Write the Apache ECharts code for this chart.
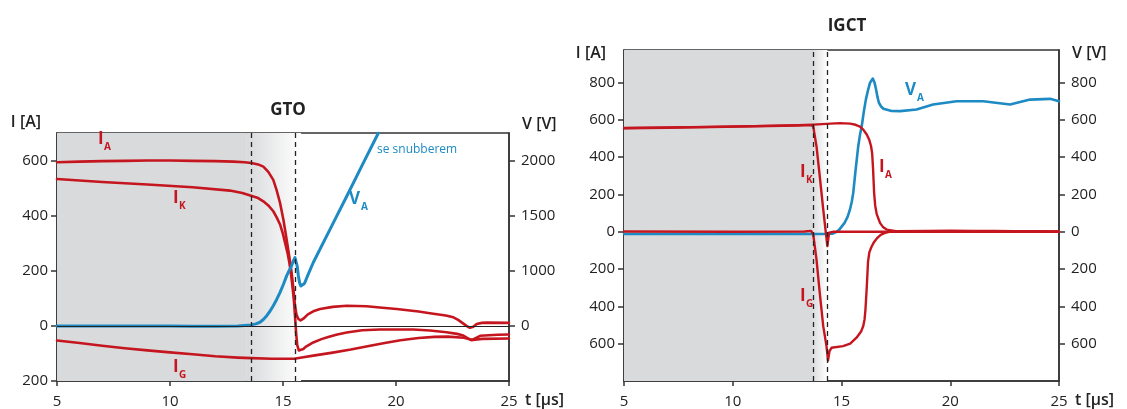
<!DOCTYPE html>
<html><head><meta charset="utf-8">
<script src="https://cdn.jsdelivr.net/npm/echarts@6/dist/echarts.min.js"></script>
<style>html,body{margin:0;padding:0;background:#fff}#c{width:1127px;height:409px}</style>
</head><body><div id="c"></div>
<script>
// ---------- DATA ----------
const timeTicks = [5, 10, 15, 20, 25];
// GTO (left panel) currents [t µs, I A]
const gtoIA = [[5,594],[6,596],[7,598],[8,599],[9,600],[10,600],[11,599],[12,598],[12.8,596],[13.3,594],[13.6,591],[13.9,586],[14.13,578],[14.35,559],[14.57,530],[14.72,492],[14.87,446],[15.02,384],[15.16,314],[15.28,250],[15.38,194],[15.46,135],[15.53,73],[15.6,40],[15.68,25],[15.78,20],[15.9,26],[16.1,42],[16.34,53],[16.64,61],[17.2,69],[17.82,73],[18.7,71],[19.4,66],[20.03,61],[21.0,52],[21.5,46],[22.2,38],[22.54,31],[22.75,22],[22.95,10],[23.12,0],[23.27,-7],[23.42,-3],[23.57,7],[23.8,11],[24.01,12],[25,11]];
const gtoIK = [[5,533],[7,522],[9,513],[11,503],[12.65,491],[13.2,482],[13.62,471],[13.9,464],[14.13,452],[14.35,437],[14.57,416],[14.72,394],[14.87,368],[15.0,333],[15.09,302],[15.2,265],[15.28,230],[15.36,185],[15.43,134],[15.49,85],[15.53,37],[15.58,-25],[15.63,-70],[15.7,-89],[15.78,-93],[15.9,-84],[16.0,-76],[16.34,-60],[16.7,-48],[17.0,-40],[17.4,-31],[17.82,-24],[18.5,-16],[19.29,-13],[20.77,-13],[21.5,-17],[22.24,-23],[22.7,-29],[22.98,-35],[23.2,-46],[23.35,-52],[23.5,-45],[23.72,-36],[24.5,-32],[25,-31]];
const gtoIG = [[5,-53],[6,-62],[7,-72],[8,-81],[9,-89],[10,-96],[11,-103],[12,-110],[13,-115],[13.6,-117],[14.5,-119],[15.5,-119],[15.9,-114],[16.34,-108],[17.2,-97],[18.0,-86],[18.8,-73],[19.5,-62],[20.2,-52],[21.0,-44],[21.7,-40],[22.3,-39],[23.0,-43],[23.4,-51],[23.8,-47],[25,-46]];
// GTO anode voltage, in units of the right axis
const gtoVA = [[5,0],[8,0],[10,-2],[11,-3],[12,-4],[13,0],[13.6,9],[13.8,18],[13.98,33],[14.13,58],[14.28,93],[14.43,135],[14.57,183],[14.72,240],[14.87,304],[15.02,378],[15.16,454],[15.28,505],[15.38,545],[15.46,590],[15.53,620],[15.58,612],[15.63,540],[15.68,455],[15.73,395],[15.79,362],[15.86,358],[15.95,385],[16.1,460],[16.34,575],[17.08,875],[17.82,1176],[18.55,1477],[19.22,1750]];
const gtoVTickLabels = {0:'0', 500:'1000', 1000:'1500', 1500:'2000'};
const gtoDashes = [13.6, 15.55];
const gtoShade = [5, 13.4, 15.8];

// IGCT (right panel)
const igctIA = [[5,557],[7,560],[9,563],[11,567],[13,572],[13.7,575],[14.5,580],[14.93,583],[15.39,580],[15.65,574],[15.85,564],[16.0,548],[16.16,522],[16.28,492],[16.36,459],[16.41,420],[16.45,340],[16.5,209],[16.55,140],[16.62,95],[16.77,48],[16.92,24],[17.08,12],[17.5,3],[19,4],[20,6],[21,5],[22,4],[23,3],[24,3],[25,2]];
const igctIK = [[5,555],[7,558],[9,562],[11,566],[13,570],[13.6,572],[13.7,565],[13.85,459],[14.0,298],[14.16,120],[14.28,-5],[14.35,-77],[14.43,-5],[14.6,0],[25,0]];
const igctIG = [[5,2],[10,0],[13.3,2],[13.6,5],[13.7,-14],[13.85,-148],[14.0,-327],[14.16,-506],[14.31,-613],[14.38,-690],[14.45,-640],[14.54,-622],[15.07,-613],[15.4,-600],[15.69,-568],[15.9,-535],[16.0,-505],[16.06,-470],[16.1,-420],[16.16,-300],[16.22,-160],[16.28,-110],[16.38,-80],[16.5,-54],[16.65,-32],[16.8,-16],[17.0,-6],[17.2,0],[25,0]];
const igctVA = [[5,-12],[10,-12],[14.3,-12],[14.6,-10],[14.75,-2],[14.9,12],[15.14,48],[15.28,80],[15.39,120],[15.47,160],[15.54,209],[15.65,334],[15.77,459],[15.85,520],[15.93,566],[16.02,640],[16.12,709],[16.22,760],[16.31,799],[16.44,822],[16.52,800],[16.59,763],[16.65,725],[16.72,692],[16.82,672],[16.93,660],[17.3,648],[17.7,647],[18.45,656],[19.21,683],[20.29,700],[21.52,700],[22.75,683],[23.67,709],[24.59,713],[25,700]];
const igctDashes = [13.7, 14.35];
const igctShade = [5, 13.65, 14.35];

// ---------- STYLE ----------
const RED = '#c5161f', BLUE = '#1d8ac4', GRAY = '#d9dadc', AX = '#333';
const FONT = 'Open Sans';
const chart = echarts.init(document.getElementById('c'), null, {renderer:'canvas'});

function xAx(gi){
  return {type:'value', gridIndex:gi, min:5, max:25, interval:5,
    axisLine:{show:true, onZero:false, lineStyle:{color:AX, width:1.5}},
    axisTick:{show:true, length:5, customValues: timeTicks, lineStyle:{color:AX, width:1.5}},
    axisLabel:{color:'#222', fontSize:15, fontFamily:FONT, margin:13, customValues: timeTicks},
    splitLine:{show:false},
    name:'t [µs]', nameLocation:'end', nameGap:16,
    nameTextStyle:{color:'#222', fontSize:16, fontFamily:FONT, fontWeight:600, verticalAlign:'top', align:'left', padding:[11,0,0,0]}};
}
function yAx(gi, pos, o){
  return Object.assign({type:'value', gridIndex:gi, position:pos,
    axisLine:{show:true, onZero:false, lineStyle:{color:AX, width:1.5}},
    splitLine:{show:false},
    nameLocation:'end'}, o);
}
const labStyle = {color:'#222', fontSize:15, fontFamily:FONT};
const nameStyle = (align, pad, va) => ({color:'#222', fontSize:16, fontFamily:FONT, fontWeight:600, align:align, verticalAlign:va, padding:pad});

function shadeAreas(s){
  return [
    [{xAxis:s[0], itemStyle:{color:GRAY}}, {xAxis:s[1]}],
    [{xAxis:s[1], itemStyle:{color:new echarts.graphic.LinearGradient(0,0,1,0,[{offset:0,color:GRAY},{offset:1,color:'#ffffff'}])}}, {xAxis:s[2]}]
  ];
}
function dashLines(d){ return d.map(v => ({xAxis:v, lineStyle:{type:[5,4], color:'#222', width:1.3}})); }

function line(name, data, xi, yi, color, w){
  return {name, type:'line', xAxisIndex:xi, yAxisIndex:yi, data, showSymbol:false, symbol:'none',
    smooth:false, lineStyle:{color, width:w, join:'round', cap:'round'}, itemStyle:{color}, z:3, silent:true};
}

function sub(x, y, main, s, color){
  return [
    {type:'text', z:100, left:x, top:y-1, style:{text:main, fill:color, font:'700 17px "Open Sans"'}},
    {type:'text', z:100, left:x + (main==='V'?12:6), top:y+10, style:{text:s, fill:color, font:'700 10px "Open Sans"'}}
  ];
}

const option = {
  animation:false,
  backgroundColor:'#fff',
  title:[
    {text:'GTO', left:283, top:97, textAlign:'center', textStyle:{fontSize:17, fontWeight:'bold', fontFamily:FONT, color:'#222'}},
    {text:'IGCT', left:842, top:13, textAlign:'center', textStyle:{fontSize:17, fontWeight:'bold', fontFamily:FONT, color:'#222'}}
  ],
  grid:[
    {left:57, top:133, width:452, height:249, show:true, borderColor:AX, borderWidth:1.5, backgroundColor:'transparent'},
    {left:624, top:50, width:435, height:332, show:true, borderColor:AX, borderWidth:1.5, backgroundColor:'transparent'}
  ],
  xAxis:[xAx(0), xAx(1)],
  yAxis:[
    yAx(0,'left',{min:-200, max:700, interval:200, name:'I [A]', nameGap:3,
      nameTextStyle:nameStyle('right',[0,16,0,0],'bottom'),
      axisLabel:Object.assign({margin:9, customValues:[-200,0,200,400,600], formatter:v=>String(Math.abs(v))}, labStyle),
      axisTick:{show:true, length:6, customValues:[-200,0,200,400,600], lineStyle:{color:AX, width:1.5}}}),
    yAx(0,'right',{min:-500, max:1750, interval:500, name:'V [V]', nameGap:1,
      nameTextStyle:nameStyle('left',[0,0,0,13],'bottom'),
      axisLabel:Object.assign({margin:12, customValues:[0,500,1000,1500], formatter:v=>gtoVTickLabels[v]}, labStyle),
      axisTick:{show:true, length:6, customValues:[0,500,1000,1500], lineStyle:{color:AX, width:1.5}}}),
    yAx(1,'left',{min:-800, max:975, interval:200, name:'I [A]', nameGap:-3,
      nameTextStyle:nameStyle('right',[0,18,0,0],'middle'),
      axisLabel:Object.assign({margin:9, customValues:[-600,-400,-200,0,200,400,600,800], formatter:v=>String(Math.abs(v))}, labStyle),
      axisTick:{show:true, length:6, customValues:[-600,-400,-200,0,200,400,600,800], lineStyle:{color:AX, width:1.5}}}),
    yAx(1,'right',{min:-800, max:975, interval:200, name:'V [V]', nameGap:-3,
      nameTextStyle:nameStyle('left',[0,0,0,13],'middle'),
      axisLabel:Object.assign({margin:12, customValues:[-600,-400,-200,0,200,400,600,800], formatter:v=>String(Math.abs(v))}, labStyle),
      axisTick:{show:true, length:6, customValues:[-600,-400,-200,0,200,400,600,800], lineStyle:{color:AX, width:1.5}}})
  ],
  series:[
    {type:'line', xAxisIndex:0, yAxisIndex:0, data:[], silent:true, z:1,
      markArea:{silent:true, data:shadeAreas(gtoShade)},
      markLine:{silent:true, symbol:'none', label:{show:false}, animation:false,
        data:[...dashLines(gtoDashes), {yAxis:0, lineStyle:{type:'solid', color:'#222', width:1.2}}]}},
    {type:'line', xAxisIndex:1, yAxisIndex:2, data:[], silent:true, z:1,
      markArea:{silent:true, data:shadeAreas(igctShade)},
      markLine:{silent:true, symbol:'none', label:{show:false}, animation:false, data:dashLines(igctDashes)}},
    line('GTO IG', gtoIG, 0, 0, RED, 2.6),
    line('GTO IK', gtoIK, 0, 0, RED, 2.6),
    line('GTO IA', gtoIA, 0, 0, RED, 2.6),
    line('GTO VA', gtoVA, 0, 1, BLUE, 3),
    line('IGCT VA', igctVA, 1, 3, BLUE, 2.6),
    line('IGCT IG', igctIG, 1, 2, RED, 2.4),
    line('IGCT IK', igctIK, 1, 2, RED, 2.4),
    line('IGCT IA', igctIA, 1, 2, RED, 2.4)
  ],
  graphic:[
    ...sub(98, 132, 'I', 'A', RED),
    ...sub(173, 191, 'I', 'K', RED),
    ...sub(173, 360, 'I', 'G', RED),
    ...sub(349, 192, 'V', 'A', BLUE),
    {type:'text', z:100, left:377, top:144, style:{text:'se snubberem', fill:BLUE, font:'12px "Open Sans"'}},
    ...sub(905, 83, 'V', 'A', BLUE),
    ...sub(879, 160, 'I', 'A', RED),
    ...sub(800, 165, 'I', 'K', RED),
    ...sub(800, 289, 'I', 'G', RED)
  ]
};
chart.setOption(option);
</script>
</body></html>
